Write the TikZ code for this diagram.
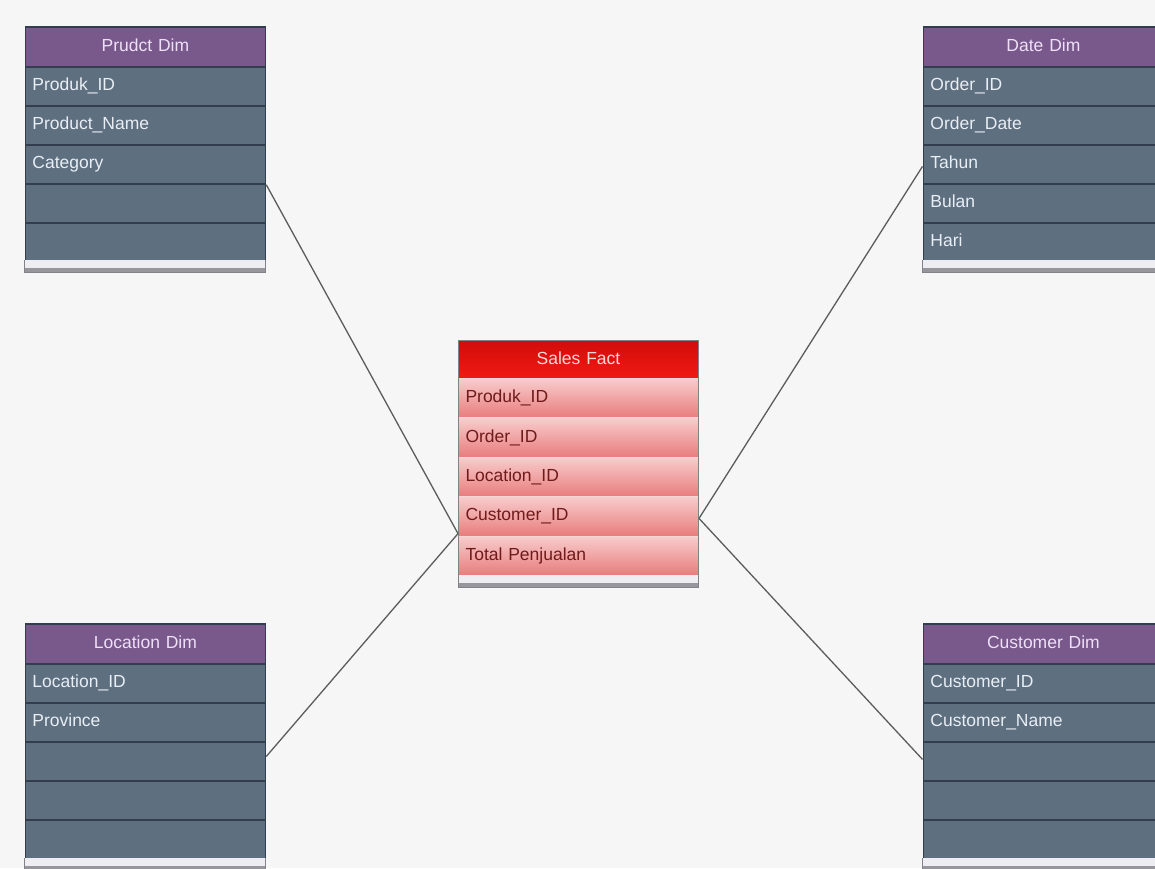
\documentclass[tikz,border=0pt]{standalone}
\usepackage{fontspec}
\setmainfont{Liberation Sans}
\definecolor{bg}{RGB}{246,246,246}
\definecolor{dimhead}{RGB}{121,88,140}
\definecolor{dimrow}{RGB}{94,111,128}
\definecolor{dimline}{RGB}{50,62,78}
\definecolor{dimtext}{RGB}{232,238,244}
\definecolor{headtext}{RGB}{238,224,246}
\definecolor{factrowtop}{RGB}{248,204,204}
\definecolor{factrowbot}{RGB}{232,124,124}
\definecolor{factline}{RGB}{246,214,214}
\definecolor{facttext}{RGB}{112,26,26}
\definecolor{factheadtop}{RGB}{210,12,10}
\definecolor{factheadbot}{RGB}{240,26,18}
\definecolor{factheadtext}{RGB}{250,214,214}
\definecolor{conn}{RGB}{92,92,92}
\definecolor{footgray}{RGB}{150,150,156}
\definecolor{footwhite}{RGB}{238,238,242}
\definecolor{boxedge}{RGB}{130,130,136}
\begin{document}
\begin{tikzpicture}[x=1pt,y=-1pt,
  cell/.style={rectangle, anchor=north west, inner xsep=7pt, inner ysep=0pt,
    text width=226pt, minimum height=39pt, text height=12.5pt, text depth=3.5pt,
    font=\fontsize{17.5}{20}\selectfont, align=left},
  dimheadbox/.style={cell, minimum height=40pt, align=center, fill=dimhead,
    draw=dimline, line width=1.8pt, text=headtext},
  dimrowbox/.style={cell, fill=dimrow, draw=dimline, line width=1.8pt, text=dimtext},
  factheadbox/.style={cell, minimum height=38pt, align=center,
    top color=factheadtop, bottom color=factheadbot, draw=factline, line width=1pt, text=factheadtext},
  factrowbox/.style={cell, minimum height=39.4pt, top color=factrowtop, bottom color=factrowbot,
    draw=factline, line width=1pt, text=facttext},
  footbox/.style={rectangle, anchor=north west, inner sep=0pt, minimum width=241pt,
    minimum height=12pt, fill=footwhite, draw=none},
  footbar/.style={footgray, line width=4pt},
  outline/.style={draw=boxedge, line width=0.8pt},
  connector/.style={draw=conn, line width=1.3pt}
]
\useasboundingbox (0,0) rectangle (1155,868);
\clip (0,0) rectangle (1155,868);
\fill[bg] (0,0) rectangle (1155,868);

% Product Dim
\node[dimheadbox] (pdh) at (24.5,26) {Prudct Dim};
\foreach \t [count=\i] in {Produk\_ID,Product\_Name,Category,{},{}}
  \node[dimrowbox] (pd\i) at (24.5,{66+39*(\i-1)}) {\t};
\node[footbox] (pdf) at (24,260) {};
\draw[footbar] ([yshift=2.5pt]pdf.south west) -- ([yshift=2.5pt]pdf.south east);
\draw[outline] (pdf.north west) -- (pdf.south west) -- (pdf.south east) -- (pdf.north east);

% Date Dim
\node[dimheadbox] (ddh) at (922.5,26) {Date Dim};
\foreach \t [count=\i] in {Order\_ID,Order\_Date,Tahun,Bulan,Hari}
  \node[dimrowbox] (dd\i) at (922.5,{66+39*(\i-1)}) {\t};
\node[footbox] (ddf) at (922,260) {};
\draw[footbar] ([yshift=2.5pt]ddf.south west) -- ([yshift=2.5pt]ddf.south east);
\draw[outline] (ddf.north west) -- (ddf.south west) -- (ddf.south east) -- (ddf.north east);

% Location Dim
\node[dimheadbox] (lch) at (24.5,623) {Location Dim};
\foreach \t [count=\i] in {Location\_ID,Province,{},{},{}}
  \node[dimrowbox] (lc\i) at (24.5,{663+39*(\i-1)}) {\t};
\node[footbox] (lcf) at (24,858) {};
\draw[footbar] ([yshift=2.5pt]lcf.south west) -- ([yshift=2.5pt]lcf.south east);
\draw[outline] (lcf.north west) -- (lcf.south west) -- (lcf.south east) -- (lcf.north east);

% Customer Dim
\node[dimheadbox] (cdh) at (922.5,623) {Customer Dim};
\foreach \t [count=\i] in {Customer\_ID,Customer\_Name,{},{},{}}
  \node[dimrowbox] (cd\i) at (922.5,{663+39*(\i-1)}) {\t};
\node[footbox] (cdf) at (922,858) {};
\draw[footbar] ([yshift=2.5pt]cdf.south west) -- ([yshift=2.5pt]cdf.south east);
\draw[outline] (cdf.north west) -- (cdf.south west) -- (cdf.south east) -- (cdf.north east);

% Sales Fact
\node[factheadbox] (sfh) at (458,340) {Sales Fact};
\foreach \t [count=\i] in {Produk\_ID,Order\_ID,Location\_ID,Customer\_ID,Total Penjualan}
  \node[factrowbox] (sf\i) at (458,{378+39.4*(\i-1)}) {\t};
\node[footbox, minimum width=240pt] (sff) at (458,575) {};
\draw[footbar] ([yshift=2.5pt]sff.south west) -- ([yshift=2.5pt]sff.south east);
\draw[outline] (sfh.north west) rectangle (sff.south east);

% Connectors
\draw[connector] (pd3.south east) -- ([yshift=3pt]sf4.south west);
\draw[connector] ([yshift=5pt]lc3.east) -- ([yshift=3pt]sf4.south west);
\draw[connector] ([yshift=-2pt]dd3.west) -- ([yshift=-2pt]sf4.east);
\draw[connector] ([yshift=2pt]cd3.west) -- ([yshift=-2pt]sf4.east);
\end{tikzpicture}
\end{document}
